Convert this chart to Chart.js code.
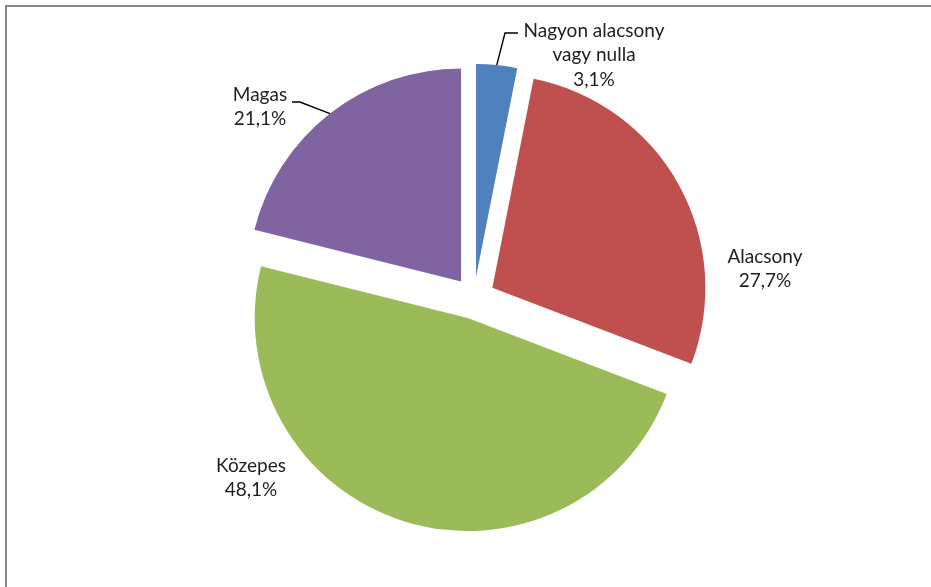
<!DOCTYPE html>
<html>
<head>
<meta charset="utf-8">
<script src="https://cdn.jsdelivr.net/npm/chart.js@4"></script>
<style>
    body { margin: 0; background: #fff; }
    #wrap { position: relative; width: 931px; height: 587px; overflow: hidden; }
    #frame {
        position: absolute; left: 5px; top: 5px; width: 1000px; height: 700px;
        border-left: 2px solid #878787; border-top: 2px solid #878787;
    }
    canvas { position: absolute; left: 0; top: 0; }
</style>
</head>
<body>
<div id="wrap">
    <div id="frame"></div>
    <canvas id="pieChart" width="931" height="587"></canvas>
</div>
<script>
const categories = ["Nagyon alacsony\nvagy nulla", "Alacsony", "Közepes", "Magas"];
const shares = [3.1, 27.7, 48.1, 21.1];
const sliceColors = ["#4F81BD", "#C0504D", "#9BBB59", "#8064A2"];

// how far every slice is pulled out of the pie, px
const GAP = 21;
const RADIUS = 213;

// label anchors relative to the pie centre (x = text centre, y = first baseline)
const labelPos = [
    { dx: 120, dy: -261, leader: [[-89, -4], [-76, -4]] },
    { dx: 291, dy: -35 },
    { dx: -223, dy: 174 },
    { dx: -214, dy: -197, leader: [[40, 1], [32, 1]] }
];

function pieCentre(chart) {
    const a = chart.chartArea;
    return { x: (a.left + a.right) / 2, y: (a.top + a.bottom) / 2 };
}

// chart.js' own offset also shrinks small slices, so pull every slice out
// the same distance by moving its centre instead
const explode = {
    id: "explode",
    beforeDatasetsDraw(chart) {
        const c = pieCentre(chart);
        chart.getDatasetMeta(0).data.forEach(arc => {
            const mid = (arc.startAngle + arc.endAngle) / 2;
            arc.x = c.x + Math.cos(mid) * GAP;
            arc.y = c.y + Math.sin(mid) * GAP;
        });
    }
};

const outsideLabels = {
    id: "outsideLabels",
    afterDraw(chart) {
        const ctx = chart.ctx;
        const meta = chart.getDatasetMeta(0);
        const c = pieCentre(chart);

        ctx.save();
        ctx.font = "19px Lato";
        ctx.fillStyle = "#1e1e1e";
        ctx.textAlign = "center";
        ctx.textBaseline = "alphabetic";

        meta.data.forEach((arc, i) => {
            const lines = categories[i].split("\n");
            lines.push(shares[i].toFixed(1).replace(".", ",") + "%");
            const lp = labelPos[i];
            const lx = c.x + lp.dx;
            const ly = c.y + lp.dy;
            lines.forEach((t, k) => ctx.fillText(t, lx, ly + k * 24.3));

            if (lp.leader) {
                const mid = (arc.startAngle + arc.endAngle) / 2;
                ctx.beginPath();
                ctx.strokeStyle = "#000";
                ctx.lineWidth = 1.4;
                ctx.moveTo(arc.x + Math.cos(mid) * arc.outerRadius, arc.y + Math.sin(mid) * arc.outerRadius);
                lp.leader.forEach(q => ctx.lineTo(lx + q[0], ly + q[1]));
                ctx.stroke();
            }
        });
        ctx.restore();
    }
};

new Chart(document.getElementById("pieChart"), {
    type: "pie",
    data: {
        labels: categories,
        datasets: [{
            data: shares,
            backgroundColor: sliceColors,
            borderWidth: 0,
            radius: RADIUS
        }]
    },
    options: {
        responsive: false,
        animation: false,
        layout: { padding: { left: 17, right: 0, top: 9, bottom: 0 } },
        plugins: {
            legend: { display: false },
            tooltip: { enabled: false }
        }
    },
    plugins: [explode, outsideLabels]
});
</script>
</body>
</html>
